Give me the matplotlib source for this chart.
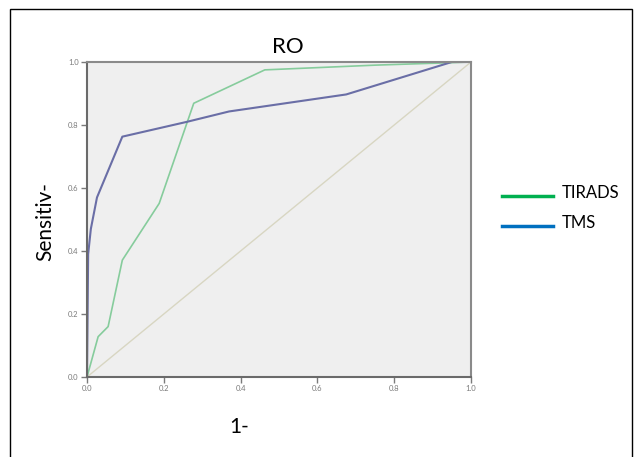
import matplotlib
matplotlib.use("Agg")
import matplotlib.pyplot as plt
from matplotlib.patches import Rectangle
from matplotlib.lines import Line2D

# ROC points (1 - specificity, sensitivity)
tms_fpr = [0.0, 0.003, 0.01, 0.026, 0.092, 0.26, 0.37, 0.675, 0.95, 1.0]
tms_tpr = [0.0, 0.39, 0.47, 0.57, 0.763, 0.81, 0.843, 0.897, 1.0, 1.0]

tirads_fpr = [0.0, 0.029, 0.055, 0.092, 0.188, 0.278, 0.463, 0.75, 1.0]
tirads_tpr = [0.0, 0.128, 0.16, 0.371, 0.551, 0.869, 0.975, 0.99, 1.0]

ref_line = [0.0, 1.0]
ticks = [0.0, 0.2, 0.4, 0.6, 0.8, 1.0]
tick_labels = ["0.0", "0.2", "0.4", "0.6", "0.8", "1.0"]

series_names = ["TIRADS", "TMS"]
legend_colors = ["#00b050", "#0070c0"]

plt.rcParams["font.family"] = ["Lato", "DejaVu Sans"]

fig = plt.figure(figsize=(6.37, 4.57), dpi=100)
fig.patch.set_facecolor("white")

# outer frame
fig.patches.append(Rectangle((10 / 637, -0.01), 622 / 637, (457 - 9) / 457 + 0.01,
                             transform=fig.transFigure, fill=False,
                             edgecolor="black", linewidth=1.0))

ax = fig.add_axes([87 / 637, 80 / 457, 384 / 637, 315 / 457])
ax.set_facecolor("#efefef")

ax.plot(ref_line, ref_line, color="#d8d6c2", linewidth=1.0)
ax.plot(tirads_fpr, tirads_tpr, color="#86cc9c", linewidth=1.2)
ax.plot(tms_fpr, tms_tpr, color="#6a6ea6", linewidth=1.5)

ax.set_xlim(0, 1)
ax.set_ylim(0, 1)
ax.set_xticks(ticks)
ax.set_yticks(ticks)
ax.set_xticklabels(tick_labels)
ax.set_yticklabels(tick_labels)
ax.tick_params(axis="both", labelsize=5.5, colors="#7a7a7a", length=4, width=1,
               direction="out", pad=2)
for s in ax.spines.values():
    s.set_color("#8a8a8a")
    s.set_linewidth(1.5)
ax.spines["left"].set_color("#6a6a6a")
ax.spines["bottom"].set_color("#6a6a6a")

fig.text(288 / 637, 1 - 47 / 457, "RO", fontsize=16, ha="center", va="center")
fig.text(45 / 637, 1 - 222 / 457, "Sensitiv-", fontsize=15, rotation=90,
         ha="center", va="center")
fig.text(239 / 637, 1 - 427 / 457, "1-", fontsize=15, ha="center", va="center")

# legend drawn by hand beside the plot
leg_y = [196, 226]
for name, col, y in zip(series_names, legend_colors, leg_y):
    fig.add_artist(Line2D([502 / 637, 553 / 637], [1 - y / 457, 1 - y / 457],
                          transform=fig.transFigure, color=col, linewidth=2.5))
    fig.text(562 / 637, 1 - (y - 3) / 457, name, fontsize=12, ha="left", va="center")

fig.savefig("out.png", dpi=100)
